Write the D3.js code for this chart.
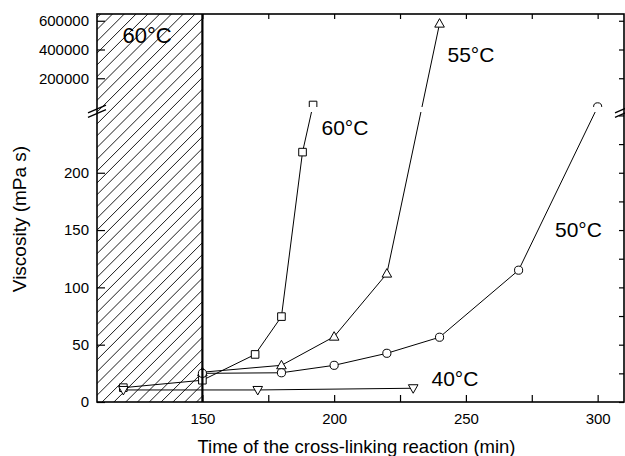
<!DOCTYPE html>
<html>
<head>
<meta charset="utf-8">
<script src="https://cdn.jsdelivr.net/npm/d3@7/dist/d3.min.js"></script>
<style>
  html, body { margin: 0; padding: 0; background: #fff; }
  svg { display: block; font-family: "Liberation Sans", Arial, sans-serif; }
</style>
</head>
<body>
<svg id="chart" width="625" height="456"></svg>
<script>
// Viscosity vs. cross-linking time at four temperatures (broken y axis)
const xTicksLabelled = [150, 200, 250, 300];
const xTicksAll = [150, 175, 200, 225, 250, 275, 300];
const yLowTicks = [0, 50, 100, 150, 200];
const yLowRightTicks = [0, 25, 50, 75, 100, 125, 150, 175, 200, 225, 250];
const yHighTicks = [200000, 400000, 600000];

// 60 °C (squares)
const t60 = [120, 150, 170, 180, 188, 192];
const v60 = [12.5, 19, 41.5, 74.5, 218, 14000];
// 55 °C (triangles)
const t55 = [150, 180, 200, 220, 240];
const v55 = [26, 32, 57, 112, 580000];
// 50 °C (circles)
const t50 = [150, 180, 200, 220, 240, 270, 300];
const v50 = [25, 25.5, 32, 42.5, 56.5, 115, 1000];
// 40 °C (inverted triangles)
const t40 = [120, 171, 230];
const v40 = [10.5, 10.5, 12];

const seriesLabels = [
  { text: "60°C", x: 321.5, y: 135, size: 21 },
  { text: "55°C", x: 447.5, y: 61.5, size: 21 },
  { text: "50°C", x: 555, y: 236.5, size: 21 },
  { text: "40°C", x: 431.5, y: 386, size: 21 }
];

const L = 97, R = 624, T = 14, B = 402;
const lowTop = 112, highBottom = 107;
const LOW_MAX = 253;

const svg = d3.select("#chart");

const x = d3.scaleLinear().domain([110, 310]).range([L, R]);
const yLow = d3.scaleLinear().domain([0, LOW_MAX]).range([B, lowTop]);
const yHigh = d3.scaleLinear().domain([0, 647000]).range([highBottom, T]);
const y = v => (v <= LOW_MAX ? yLow(v) : yHigh(v));

// clip regions for the two y segments
const defs = svg.append("defs");
defs.append("clipPath").attr("id", "clipHigh")
  .append("rect").attr("x", L).attr("y", T).attr("width", R - L).attr("height", highBottom - T);
defs.append("clipPath").attr("id", "clipLow")
  .append("rect").attr("x", L).attr("y", lowTop).attr("width", R - L).attr("height", B - lowTop);
defs.append("clipPath").attr("id", "clipHatch")
  .append("rect").attr("x", L).attr("y", T).attr("width", x(150) - L).attr("height", B - T);

// hatched region before 150 min
const hx0 = L, hx1 = x(150);
const period = 11.8, phase = 8.5;
const hatch = svg.append("g").attr("clip-path", "url(#clipHatch)");
const kStart = Math.floor((hx0 + T - phase) / period) - 1;
const kEnd = Math.ceil((hx1 + B - phase) / period) + 1;
hatch.selectAll("line").data(d3.range(kStart, kEnd)).join("line")
  .attr("x1", k => k * period + phase - B).attr("y1", B)
  .attr("x2", k => k * period + phase - T).attr("y2", T)
  .attr("stroke", "#000").attr("stroke-width", 0.9);

svg.append("text")
  .attr("x", 122.5).attr("y", 42.5)
  .attr("font-size", 22).attr("fill", "#000")
  .text("60°C");

// axes (ticks inward, no domain path)
function styleAxis(g) {
  g.select(".domain").remove();
  g.selectAll(".tick line").attr("stroke", "#000").attr("stroke-width", 1.2);
  g.selectAll(".tick text").attr("fill", "#000").attr("font-size", 15)
    .attr("font-family", "Liberation Sans, Arial, sans-serif");
}

svg.append("g").attr("transform", `translate(${L},0)`)
  .call(d3.axisLeft(yLow).tickValues(yLowTicks).tickSizeInner(-8).tickSizeOuter(0).tickPadding(8))
  .call(styleAxis);
svg.append("g").attr("transform", `translate(${L},0)`)
  .call(d3.axisLeft(yHigh).tickValues(yHighTicks).tickSizeInner(-8).tickSizeOuter(0).tickPadding(8)
    .tickFormat(d3.format("d")))
  .call(styleAxis);
svg.append("g").attr("transform", `translate(${R},0)`)
  .call(d3.axisRight(yLow).tickValues(yLowRightTicks).tickSizeInner(-5).tickSizeOuter(0).tickFormat(""))
  .call(styleAxis);
svg.append("g").attr("transform", `translate(${R},0)`)
  .call(d3.axisRight(yHigh).tickValues(yHighTicks).tickSizeInner(-5).tickSizeOuter(0).tickFormat(""))
  .call(styleAxis);
svg.append("g").attr("transform", `translate(0,${B})`)
  .call(d3.axisBottom(x).tickValues(xTicksAll).tickSizeInner(-7).tickSizeOuter(0).tickPadding(11)
    .tickFormat(d => (xTicksLabelled.includes(d) ? d : "")))
  .call(styleAxis);
svg.append("g").attr("transform", `translate(0,${T})`)
  .call(d3.axisTop(x).tickValues(xTicksAll).tickSizeInner(-5).tickSizeOuter(0).tickFormat(""))
  .call(styleAxis);

// data
const series = [
  { t: t60, v: v60, shape: "square" },
  { t: t55, v: v55, shape: "triangle" },
  { t: t50, v: v50, shape: "circle" },
  { t: t40, v: v40, shape: "down" }
];

const line = d3.line().x(d => x(d[0])).y(d => y(d[1]));

function marker(g, shape, cx, cy) {
  const s = g.append("path").attr("fill", "#fff").attr("stroke", "#000").attr("stroke-width", 1);
  if (shape === "square") s.attr("d", `M${cx - 3.8},${cy - 3.8}h7.6v7.6h-7.6Z`);
  else if (shape === "circle") s.attr("d", d3.symbol().type(d3.symbolCircle).size(52)()).attr("transform", `translate(${cx},${cy})`);
  else if (shape === "triangle") s.attr("d", `M${cx},${cy - 5}L${cx + 4.8},${cy + 3.5}L${cx - 4.8},${cy + 3.5}Z`);
  else s.attr("d", `M${cx},${cy + 5}L${cx + 4.8},${cy - 3.5}L${cx - 4.8},${cy - 3.5}Z`);
}

["clipHigh", "clipLow"].forEach(clip => {
  const g = svg.append("g").attr("clip-path", `url(#${clip})`);
  series.forEach(s => {
    const pts = s.t.map((t, i) => [t, s.v[i]]);
    g.append("path").attr("d", line(pts)).attr("fill", "none")
      .attr("stroke", "#000").attr("stroke-width", 1);
  });
  series.forEach(s => {
    s.t.forEach((t, i) => marker(g, s.shape, x(t), y(s.v[i])));
  });
});

// frame and boundary of the hatched region
svg.append("rect").attr("x", L).attr("y", T).attr("width", R - L).attr("height", B - T)
  .attr("fill", "none").attr("stroke", "#000").attr("stroke-width", 1.6);
svg.append("line").attr("x1", x(150)).attr("x2", x(150)).attr("y1", T).attr("y2", B)
  .attr("stroke", "#000").attr("stroke-width", 2.2);

// axis break marks
[L, R].forEach(ax => {
  [109, 113.5].forEach(cy => {
    svg.append("line")
      .attr("x1", ax - 9).attr("y1", cy + 3.8).attr("x2", ax + 9).attr("y2", cy - 3.8)
      .attr("stroke", "#000").attr("stroke-width", 1.4);
  });
});

// series labels
svg.selectAll("text.series").data(seriesLabels).join("text")
  .attr("class", "series")
  .attr("x", d => d.x).attr("y", d => d.y)
  .attr("font-size", d => d.size).attr("fill", "#000")
  .text(d => d.text);

// axis titles
svg.append("text")
  .attr("x", 356.5).attr("y", 453)
  .attr("text-anchor", "middle").attr("font-size", 18.5).attr("fill", "#000")
  .text("Time of the cross-linking reaction (min)");
svg.append("text")
  .attr("transform", "translate(26,219) rotate(-90)")
  .attr("text-anchor", "middle").attr("font-size", 19).attr("fill", "#000")
  .text("Viscosity (mPa s)");
</script>
</body>
</html>
